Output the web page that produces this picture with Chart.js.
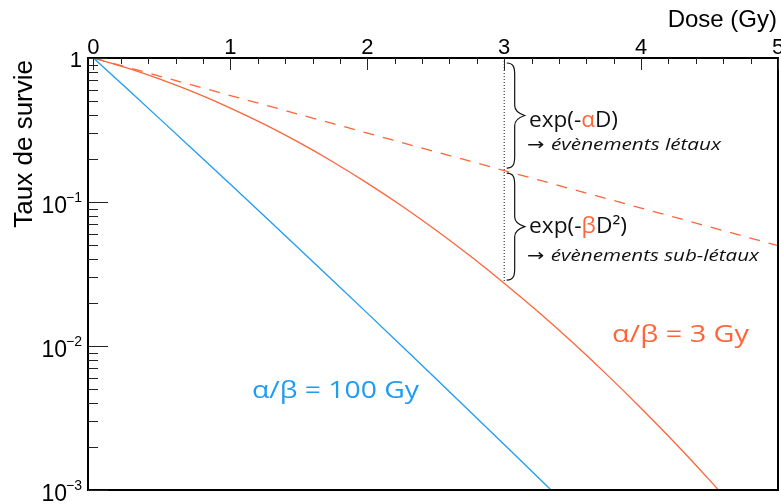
<!DOCTYPE html>
<html>
<head>
<meta charset="utf-8">
<script src="https://cdn.jsdelivr.net/npm/chart.js@4.4.1/dist/chart.umd.min.js"></script>
<style>
  html, body { margin: 0; padding: 0; background: #ffffff; }
  canvas { display: block; }
</style>
</head>
<body>
<canvas id="c" width="781" height="504"></canvas>
<script>
// ---- data ----
const doses = [0, 0.25, 0.5, 0.75, 1, 1.25, 1.5, 1.75, 2, 2.25, 2.5, 2.75, 3, 3.25, 3.5, 3.75, 4, 4.25, 4.5, 4.75, 5];
// alpha/beta = 100 Gy (blue)
const survivalAB100 = [1, 0.6058, 0.3660, 0.2207, 0.1327, 0.0796, 0.0476, 0.0284, 0.01691, 0.01004, 0.005945, 0.003513, 0.00207, 0.001218, 0.000714, 0.000418, 0.000244, 0.000142, 0.0000822, 0.0000477, 0.0000275];
// alpha/beta = 3 Gy (red, solid)
const survivalAB3 = [1, 0.8500, 0.7047, 0.5698, 0.4493, 0.3456, 0.2592, 0.1897, 0.1353, 0.0942, 0.0639, 0.0423, 0.0273, 0.0172, 0.01057, 0.00633, 0.0037, 0.00211, 0.00117, 0.000635, 0.000335];
// lethal events only, exp(-alpha D) (red, dashed)
const lethalOnly = [1, 0.8607, 0.7408, 0.6376, 0.5488, 0.4724, 0.4066, 0.3499, 0.3012, 0.2592, 0.2231, 0.1920, 0.1653, 0.1423, 0.1225, 0.1054, 0.0907, 0.0781, 0.0672, 0.0578, 0.0498];

const xTickValues = [0, 1, 2, 3, 4, 5];
const xTickLabels = ['0', '1', '2', '3', '4', '5'];
const xMinorStep = 0.2;
const yTickValues = [1, 0.1, 0.01, 0.001];
const yTickBases = ['1', '10', '10', '10'];
const yTickExponents = ['', '\u22121', '\u22122', '\u22123'];
const markerDose = 3;

const xTitle = 'Dose (Gy)';
const yTitle = 'Taux de survie';

const RED = '#ff653a';
const BLUE = '#1e9bf5';

const markerIndex = doses.indexOf(markerDose);
const pts = arr => doses.map((d, i) => ({ x: d, y: arr[i] }));

// ---- drawing helpers ----
function drawFitText(ctx, parts, x, y, size, family, style, targetW) {
  const fontOf = p => (p.s || style) + ' ' + size + 'px ' + (p.f || family);
  let total = 0;
  const widths = parts.map(p => { ctx.font = fontOf(p); const w = ctx.measureText(p.t).width; total += w; return w; });
  const sx = targetW ? targetW / total : 1;
  ctx.save();
  ctx.translate(x, y);
  ctx.scale(sx, 1);
  ctx.textAlign = 'left';
  ctx.textBaseline = 'alphabetic';
  let cx = 0;
  parts.forEach((p, i) => { ctx.font = fontOf(p); ctx.fillStyle = p.c; ctx.fillText(p.t, cx, 0); cx += widths[i]; });
  ctx.restore();
}

function drawBrace(ctx, x, y1, y2, s, w) {
  const ym = (y1 + y2) / 2;
  ctx.beginPath();
  ctx.moveTo(x, y1);
  ctx.bezierCurveTo(x + s * 0.9, y1, x + s, y1 + 5, x + s, y1 + 12);
  ctx.lineTo(x + s, ym - 10);
  ctx.bezierCurveTo(x + s, ym - 4, x + w - 3, ym - 1, x + w, ym);
  ctx.bezierCurveTo(x + w - 3, ym + 1, x + s, ym + 4, x + s, ym + 10);
  ctx.lineTo(x + s, y2 - 12);
  ctx.bezierCurveTo(x + s, y2 - 5, x + s * 0.9, y2, x, y2);
  ctx.stroke();
}

const decorPlugin = {
  id: 'decor',
  afterDraw(chart) {
    const ctx = chart.ctx;
    const a = chart.chartArea;
    const xs = chart.scales.x, ys = chart.scales.y;
    ctx.save();

    // frame
    ctx.strokeStyle = '#000';
    ctx.lineWidth = 2;
    ctx.strokeRect(a.left, a.top, a.right - a.left, a.bottom - a.top);

    // x ticks (top axis, pointing down)
    ctx.lineWidth = 1;
    ctx.strokeStyle = '#222';
    for (let v = 0; v <= 5.0001; v += xMinorStep) {
      const px = Math.round(xs.getPixelForValue(v)) + 0.5;
      const major = Math.abs(v - Math.round(v)) < 1e-6;
      ctx.beginPath();
      ctx.moveTo(px, a.top);
      ctx.lineTo(px, a.top + (major ? 12 : 6));
      ctx.stroke();
    }
    // y ticks (left axis, pointing right)
    for (let e = -3; e <= 0; e++) {
      for (let m = 1; m <= 9; m++) {
        const v = m * Math.pow(10, e);
        if (v > 1.0001) continue;
        const py = Math.round(ys.getPixelForValue(v)) + 0.5;
        ctx.beginPath();
        ctx.moveTo(a.left, py);
        ctx.lineTo(a.left + (m === 1 ? 20 : 10), py);
        ctx.stroke();
      }
    }

    // x tick labels
    ctx.fillStyle = '#000';
    ctx.font = '22px "Liberation Sans", Arial, sans-serif';
    ctx.textAlign = 'center';
    ctx.textBaseline = 'alphabetic';
    xTickValues.forEach((v, i) => {
      ctx.fillText(xTickLabels[i], xs.getPixelForValue(v), a.top - 4);
    });

    // y tick labels
    yTickValues.forEach((v, i) => {
      const py = ys.getPixelForValue(v);
      const base = yTickBases[i], ex = yTickExponents[i];
      const right = a.left - 6;
      if (!ex) {
        ctx.font = '22px "Liberation Sans", Arial, sans-serif';
        ctx.textAlign = 'right';
        ctx.fillText(base, right, py + 9);
      } else {
        ctx.font = '14px "Liberation Sans", Arial, sans-serif';
        ctx.textAlign = 'right';
        const ew = ctx.measureText(ex).width;
        ctx.fillText(ex, right, py - 0.5);
        ctx.font = '23px "Liberation Sans", Arial, sans-serif';
        ctx.fillText(base, right - ew + 1, py + 11);
      }
    });

    // axis titles
    ctx.font = '24px "Liberation Sans", Arial, sans-serif';
    ctx.textAlign = 'right';
    ctx.fillText(xTitle, 777, 27);
    ctx.save();
    ctx.translate(32, 60);
    ctx.rotate(-Math.PI / 2);
    ctx.font = '26px "Liberation Sans", Arial, sans-serif';
    ctx.textAlign = 'right';
    ctx.fillText(yTitle, 0, 0);
    ctx.restore();

    // braces next to the dotted marker line
    const bx = xs.getPixelForValue(markerDose) + 2.5;
    const yTop = a.top + 5;
    const yMid = ys.getPixelForValue(lethalOnly[markerIndex]);
    const yBot = ys.getPixelForValue(survivalAB3[markerIndex]);
    ctx.strokeStyle = '#111';
    ctx.lineWidth = 1.2;
    drawBrace(ctx, bx, yTop, yMid - 2.5, 8, 18);
    drawBrace(ctx, bx, yMid + 2.5, yBot - 3, 8, 18);

    // annotations
    const FAM = '"Open Sans", "Noto Sans", sans-serif';
    const ARROW = { t: '\u2192 ', c: '#111', f: '"DejaVu Sans", sans-serif', s: 'normal' };
    drawFitText(ctx, [{ t: 'exp(-', c: '#111' }, { t: '\u03b1', c: RED }, { t: 'D)', c: '#111' }], 529, 127, 21, FAM, 'normal', 89);
    drawFitText(ctx, [ARROW, { t: '\u00e9v\u00e8nements l\u00e9taux', c: '#111' }], 527, 150, 17, FAM, 'italic', 194);
    drawFitText(ctx, [{ t: 'exp(-', c: '#111' }, { t: '\u03b2', c: RED }, { t: 'D\u00b2)', c: '#111' }], 529, 233, 21, FAM, 'normal', 98);
    drawFitText(ctx, [ARROW, { t: '\u00e9v\u00e8nements sub-l\u00e9taux', c: '#111' }], 527, 261, 17, FAM, 'italic', 232);

    drawFitText(ctx, [{ t: '\u03b1/\u03b2 = 100 Gy', c: BLUE }], 252, 398, 23, FAM, 'normal', 167);
    drawFitText(ctx, [{ t: '\u03b1/\u03b2 = 3 Gy', c: RED }], 612, 342, 23, FAM, 'normal', 137);

    ctx.restore();
  }
};

new Chart(document.getElementById('c'), {
  type: 'scatter',
  data: {
    datasets: [
      { label: '\u03b1/\u03b2 = 100 Gy', data: pts(survivalAB100), showLine: true, borderColor: BLUE, borderWidth: 1.3, pointRadius: 0, cubicInterpolationMode: 'monotone' },
      { label: '\u03b1/\u03b2 = 3 Gy', data: pts(survivalAB3), showLine: true, borderColor: RED, borderWidth: 1.3, pointRadius: 0, cubicInterpolationMode: 'monotone' },
      { label: 'exp(-\u03b1D)', data: pts(lethalOnly), showLine: true, borderColor: RED, borderWidth: 1.3, borderDash: [11, 9], pointRadius: 0 },
      { label: 'D = 3 Gy', data: [{ x: markerDose, y: 1 }, { x: markerDose, y: survivalAB3[markerIndex] }], showLine: true, borderColor: '#111', borderWidth: 1, borderDash: [1, 2], pointRadius: 0 }
    ]
  },
  options: {
    responsive: false,
    animation: false,
    devicePixelRatio: 1,
    layout: { padding: { left: 88, right: 3, top: 58, bottom: 14 } },
    plugins: { legend: { display: false }, tooltip: { enabled: false } },
    scales: {
      x: { type: 'linear', min: -0.04, max: 5, display: false },
      y: { type: 'logarithmic', min: 0.001, max: 1, display: false }
    }
  },
  plugins: [decorPlugin]
});
</script>
</body>
</html>
